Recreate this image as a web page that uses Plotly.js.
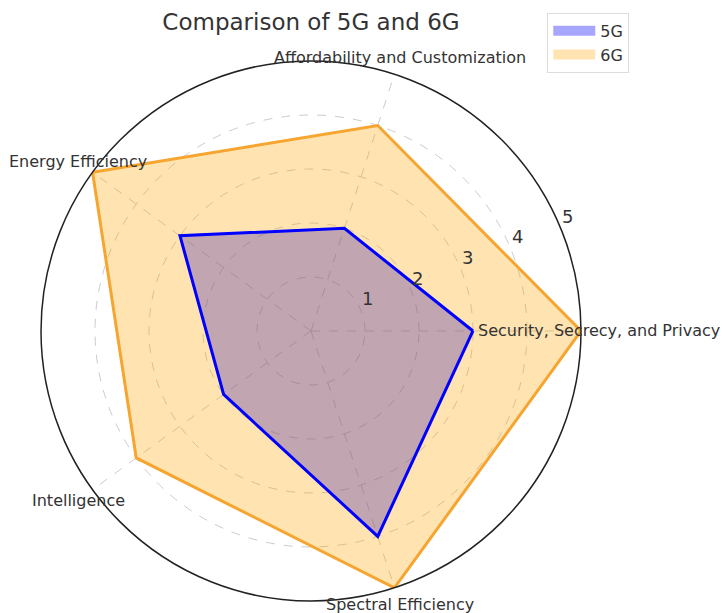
<!DOCTYPE html>
<html>
<head>
<meta charset="utf-8">
<script src="https://cdn.plot.ly/plotly-3.0.1.min.js"></script>
<style>html,body{margin:0;padding:0;background:#fff;}#chart{width:722px;height:613px;}</style>
</head>
<body>
<div id="chart"></div>
<script>
// ---- data ----
const categories = [
  "Security, Secrecy, and Privacy",
  "Affordability and Customization",
  "Energy Efficiency",
  "Intelligence",
  "Spectral Efficiency"
];
const values5G = [3, 2, 3, 2, 4];
const values6G = [5, 4, 5, 4, 5];
const radialTicks = [1, 2, 3, 4, 5];
const seriesNames = ["5G", "6G"];

// ---- styling / geometry ----
const FONT = "DejaVu Sans, Verdana, sans-serif";
const W = 722, H = 613;
const DOM_X = [0.0568, 0.8047], DOM_Y = [0.0196, 0.9005];
const RMAX = 5;
const LABEL_R = 5.33;        // category labels radius (data units)
const RLABEL_ANGLE = 22.5;   // radial tick label direction (deg)
const RLABEL_PAD = 0.2;      // outward shift of radial labels (data units)
const RLABEL_PERP = 8;       // px offset perpendicular to the label direction
const FILL5 = "rgba(0,0,255,0.35)", FILL6 = "rgba(255,165,0,0.30)";
const LINE5 = "#0000ff", LINE6 = "#f6a530";

const close = a => a.concat([a[0]]);
const thetaClosed = close(categories);

function fillTrace(vals, fillcolor) {
  return {
    type: "scatterpolar", r: close(vals), theta: thetaClosed,
    mode: "lines", fill: "toself", fillcolor: fillcolor,
    line: {width: 0, color: fillcolor}, showlegend: false, hoverinfo: "skip"
  };
}
function lineTrace(vals, color) {
  return {
    type: "scatterpolar", r: close(vals), theta: thetaClosed,
    mode: "lines", line: {width: 3, color: color}, showlegend: false,
    hoverinfo: "skip"
  };
}
function legendTrace(name, color) {
  // one-point line: draws nothing on the plot, only a wide swatch in the legend
  return {
    type: "scatterpolar", r: [0], theta: [categories[0]], mode: "lines",
    line: {width: 12, color: color}, name: name, showlegend: true, hoverinfo: "skip"
  };
}

const traces = [
  fillTrace(values5G, FILL5),
  fillTrace(values6G, FILL6),
  lineTrace(values5G, LINE5),
  lineTrace(values6G, LINE6),
  legendTrace(seriesNames[0], FILL5),
  legendTrace(seriesNames[1], FILL6)
];

// geometry of the polar area, derived from its domain
const cxPx = (DOM_X[0] + DOM_X[1]) / 2 * W;
const cyPx = (1 - (DOM_Y[0] + DOM_Y[1]) / 2) * H;
const Rpx = (DOM_X[1] - DOM_X[0]) * W / 2;
const toPaper = (rData, angDeg, perpPx) => {
  const a = angDeg * Math.PI / 180;
  const rp = Rpx * rData / RMAX;
  const px = cxPx + rp * Math.cos(a) - (perpPx || 0) * Math.sin(a);
  const py = cyPx - rp * Math.sin(a) - (perpPx || 0) * Math.cos(a);
  return {x: px / W, y: 1 - py / H};
};

const catAnnotations = categories.map((c, i) => {
  const p = toPaper(LABEL_R, i * 360 / categories.length, 0);
  return {
    text: c, showarrow: false, xref: "paper", yref: "paper", x: p.x, y: p.y,
    xanchor: "center", yanchor: "middle",
    font: {family: FONT, size: 16, color: "#333"}
  };
});
const tickAnnotations = radialTicks.map(v => {
  const p = toPaper(v + RLABEL_PAD, RLABEL_ANGLE, RLABEL_PERP);
  return {
    text: String(v), showarrow: false, xref: "paper", yref: "paper", x: p.x, y: p.y,
    xanchor: "center", yanchor: "middle",
    font: {family: FONT, size: 18, color: "#333"}
  };
});

const layout = {
  width: W, height: H,
  margin: {l: 0, r: 0, t: 0, b: 0},
  paper_bgcolor: "#fff",
  font: {family: FONT, color: "#333"},
  title: {
    text: "Comparison of 5G and 6G",
    x: cxPx / W, xanchor: "center", y: 0.965, yanchor: "middle",
    font: {family: FONT, size: 23, color: "#333"}
  },
  showlegend: true,
  legend: {
    x: 0.758, y: 0.979, xanchor: "left", yanchor: "top",
    bordercolor: "#dddddd", borderwidth: 1, bgcolor: "rgba(255,255,255,0.8)",
    font: {family: FONT, size: 16, color: "#333"},
    itemwidth: 42
  },
  annotations: catAnnotations.concat(tickAnnotations),
  polar: {
    domain: {x: DOM_X, y: DOM_Y},
    bgcolor: "rgba(0,0,0,0)",
    radialaxis: {
      range: [0, RMAX], tickvals: radialTicks, showticklabels: false,
      angle: RLABEL_ANGLE, showline: false, ticks: "",
      gridcolor: "#cccccc", griddash: "dash", gridwidth: 1
    },
    angularaxis: {
      type: "category", categoryarray: categories,
      rotation: 0, direction: "counterclockwise",
      showticklabels: false, ticks: "",
      showline: true, linecolor: "#222", linewidth: 1.5,
      gridcolor: "#cccccc", griddash: "dash", gridwidth: 1
    }
  }
};

Plotly.newPlot("chart", traces, layout, {displayModeBar: false, staticPlot: true});
</script>
</body>
</html>
